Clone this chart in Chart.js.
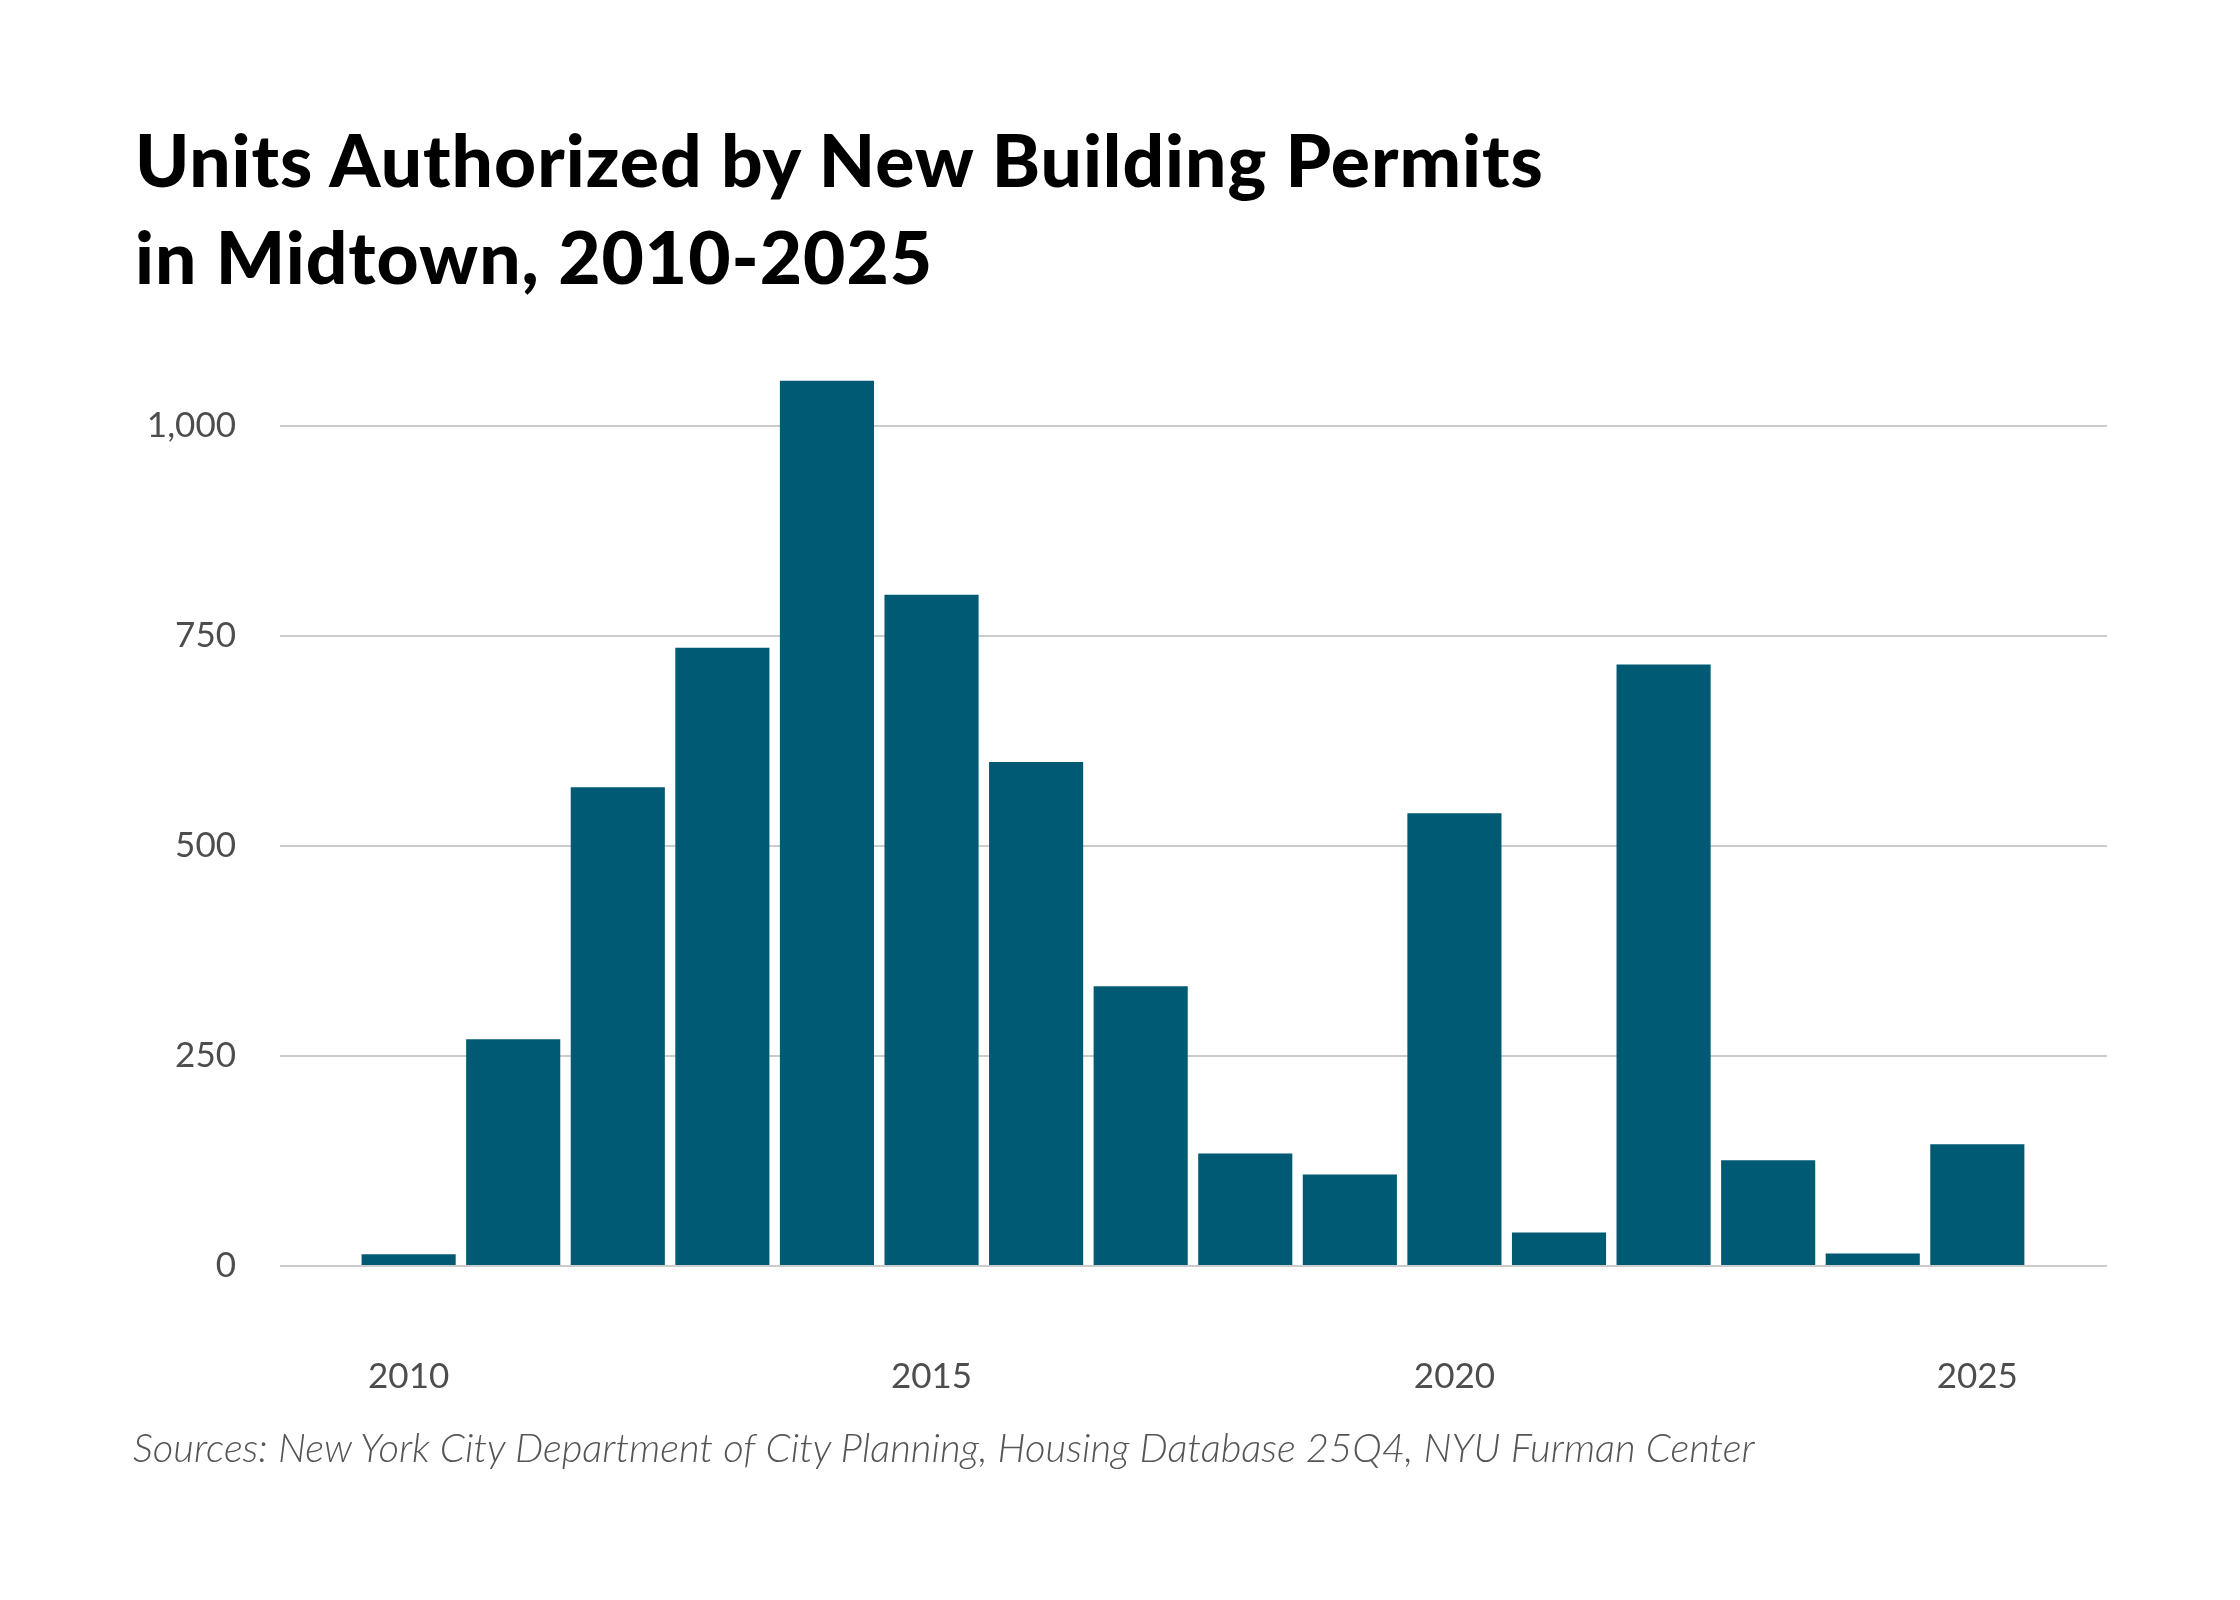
<!DOCTYPE html>
<html>
<head>
<meta charset="utf-8">
<title>Units Authorized by New Building Permits in Midtown</title>
<script src="https://cdn.jsdelivr.net/npm/chart.js@4.4.1/dist/chart.umd.min.js"></script>
<style>
  html, body { margin: 0; padding: 0; background: #fff; }
  #wrap { position: relative; width: 2240px; height: 1600px; overflow: hidden; }
  #chart { position: absolute; left: 0; top: 0; }
  .title {
    position: absolute; left: 135px; top: 111px; margin: 0;
    font-family: Lato, "Open Sans", sans-serif; font-weight: 900;
    font-size: 73px; line-height: 97px; letter-spacing: 1px; color: #000;
  }
  .source {
    position: absolute; left: 133px; top: 1424px; margin: 0;
    font-family: Lato, "Open Sans", sans-serif; font-weight: 300; font-style: italic;
    font-size: 40px; line-height: 46px; color: #555;
  }
</style>
</head>
<body>
<div id="wrap">
  <canvas id="chart" width="2240" height="1600"></canvas>
  <h1 class="title">Units Authorized by New Building Permits<br>in Midtown, 2010-2025</h1>
  <p class="source">Sources: New York City Department of City Planning, Housing Database 25Q4, NYU Furman Center</p>
</div>
<script>
const years = [2010, 2011, 2012, 2013, 2014, 2015, 2016, 2017, 2018, 2019, 2020, 2021, 2022, 2023, 2024, 2025];
const units = [14, 270, 570, 736, 1054, 799, 600, 333, 134, 109, 539, 40, 716, 126, 15, 145];
const xTicks = [2010, 2015, 2020, 2025];
const yTicks = [0, 250, 500, 750, 1000];

const tickFont = { family: "Lato, 'Open Sans', sans-serif", size: 35 };

const ctx = document.getElementById("chart").getContext("2d");

new Chart(ctx, {
  type: "bar",
  data: {
    datasets: [
      {
        label: "Units",
        data: years.map((y, i) => ({ x: y, y: units[i] })),
        backgroundColor: "#015a73",
        borderWidth: 0,
        barPercentage: 0.9,
        categoryPercentage: 1,
      },
    ],
  },
  options: {
    responsive: false,
    animation: false,
    devicePixelRatio: 1,
    layout: { padding: { top: 342, right: 133, bottom: 0, left: 0 } },
    plugins: {
      legend: { display: false },
      tooltip: { enabled: false },
    },
    scales: {
      x: {
        type: "linear",
        min: 2008.77,
        max: 2026.24,
        offset: false,
        grid: { display: false, drawTicks: false },
        border: { display: false },
        afterBuildTicks: (s) => { s.ticks = xTicks.map((v) => ({ value: v })); },
        afterFit: (s) => { s.height = 334; },
        ticks: {
          padding: 90,
          color: "#4d4d4d",
          font: tickFont,
          maxRotation: 0,
          callback: (v) => String(v),
        },
      },
      y: {
        min: 0,
        max: 1100,
        grid: { color: "#cccccc", lineWidth: 2, drawTicks: false },
        border: { display: false },
        afterBuildTicks: (s) => { s.ticks = yTicks.map((v) => ({ value: v })); },
        afterFit: (s) => { s.width = 280; },
        ticks: {
          padding: 44,
          color: "#4d4d4d",
          font: tickFont,
          callback: (v) => v.toLocaleString("en-US"),
        },
      },
    },
  },
});
</script>
</body>
</html>
